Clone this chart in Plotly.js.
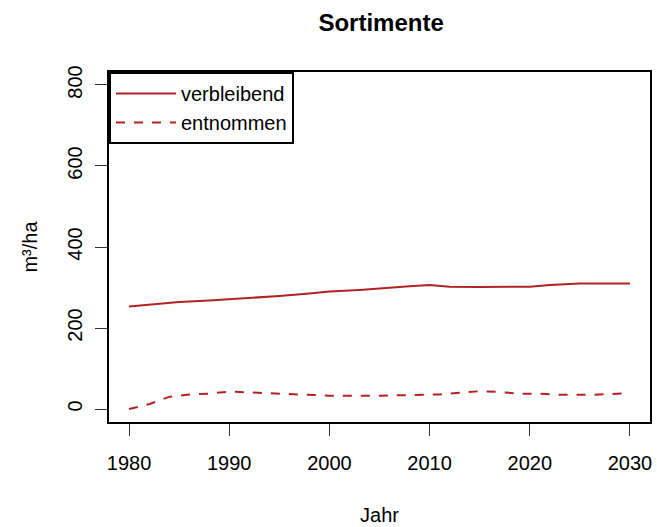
<!DOCTYPE html>
<html>
<head>
<meta charset="utf-8">
<script src="https://cdn.plot.ly/plotly-3.0.1.min.js"></script>
<style>html,body{margin:0;padding:0;background:#fff;}#chart{width:657px;height:527px;}</style>
</head>
<body>
<div id="chart"></div>
<script>
// Data
const yearsRemaining = [1980, 1983, 1985, 1988, 1990, 1993, 1995, 1998, 2000, 2003, 2005, 2008, 2010, 2012, 2015, 2018, 2020, 2022, 2025, 2030];
const remaining = [253, 260, 264, 268, 271, 275, 279, 285, 290, 294, 298, 303, 306, 302, 301, 301, 302, 306, 310, 310];

const yearsRemoved = [1980, 1982, 1984, 1986, 1988, 1990, 1992, 1995, 1997, 2000, 2005, 2008, 2011, 2013, 2015, 2017, 2019, 2021, 2023, 2026, 2030];
const removed = [0, 12, 30, 36, 38, 43, 41, 38, 35, 33, 33, 35, 36, 40, 44, 42, 38, 38, 35, 35, 39];

const seriesNames = ["verbleibend", "entnommen"];
const xTicks = [1980, 1990, 2000, 2010, 2020, 2030];
const yTicks = [0, 200, 400, 600, 800];

const FONT = "Liberation Sans, Arial, Helvetica, sans-serif";
const RED = "#B22222";

const traces = [
  {x: yearsRemaining, y: remaining, name: seriesNames[0], type: "scatter", mode: "lines",
   line: {color: RED, width: 2}},
  {x: yearsRemoved, y: removed, name: seriesNames[1], type: "scatter", mode: "lines",
   line: {color: RED, width: 2, dash: "9px,9px"}}
];

const axisCommon = {
  showline: true, mirror: true, linecolor: "#000", linewidth: 2,
  showgrid: false, zeroline: false,
  ticks: "outside", ticklen: 12, tickwidth: 1, tickcolor: "#333",
  tickfont: {family: FONT, size: 20, color: "#000"}
};

const layout = {
  width: 657, height: 527,
  paper_bgcolor: "#fff", plot_bgcolor: "#fff",
  margin: {l: 109, r: 7, t: 72, b: 105, pad: 0},
  title: {text: "<b>Sortimente</b>", font: {family: FONT, size: 24, color: "#000"},
          x: 0.58, xanchor: "center", y: 0.958, yanchor: "middle"},
  xaxis: Object.assign({}, axisCommon, {
    range: [1978, 2032], tickvals: xTicks, ticktext: xTicks.map(String),
    ticklabelstandoff: 10,
    title: {text: "Jahr", font: {family: FONT, size: 20, color: "#000"}, standoff: 35}
  }),
  yaxis: Object.assign({}, axisCommon, {
    range: [-32, 832], tickvals: yTicks, ticktext: yTicks.map(String),
    tickangle: -90, ticklabelstandoff: 5,
    title: {text: "m³/ha", font: {family: FONT, size: 20, color: "#000"}, standoff: 21}
  }),
  showlegend: true,
  legend: {
    x: 0, y: 1, xanchor: "left", yanchor: "top",
    bgcolor: "#fff", bordercolor: "#000", borderwidth: 2,
    font: {family: FONT, size: 20, color: "#000"},
    itemwidth: 60, tracegroupgap: 0
  }
};

Plotly.newPlot("chart", traces, layout, {displayModeBar: false, staticPlot: true});
</script>
</body>
</html>
